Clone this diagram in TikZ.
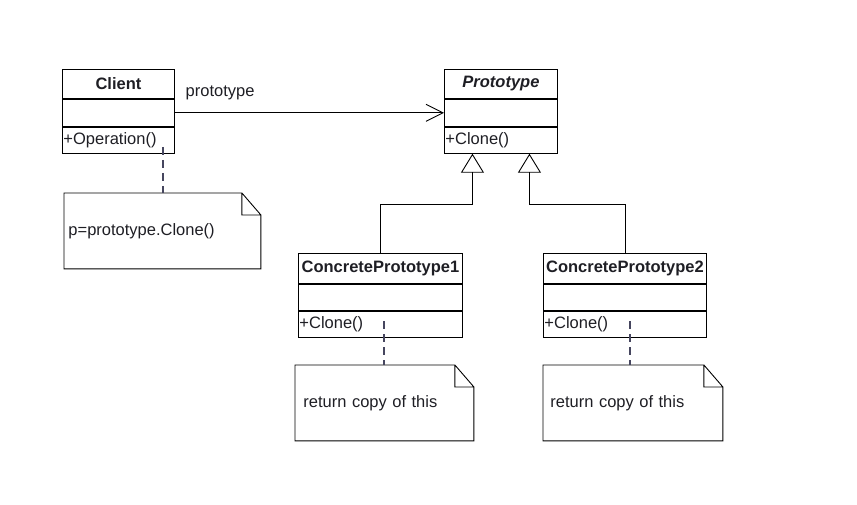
\documentclass[tikz,border=0pt]{standalone}
\usepackage{fontspec}
\setmainfont{Liberation Sans}
\usepackage{tikz}
\usetikzlibrary{arrows.meta,positioning}

\definecolor{linkgray}{RGB}{70,70,95}
\definecolor{textgray}{RGB}{30,30,36}

\begin{document}
\begin{tikzpicture}[x=1pt,y=-1pt,
          line width=0.9pt,
          font=\fontsize{16.5}{19}\selectfont,
          text=textgray,
          node distance=0pt,
          classname/.style={draw,minimum width=#1,minimum height=29pt,inner sep=0pt,font=\fontsize{16.5}{19}\selectfont\bfseries},
          classattr/.style={draw,minimum width=#1,minimum height=27pt,inner sep=0pt},
          classop/.style={draw,text width=#1,inner xsep=1pt,inner ysep=0pt,minimum height=26pt,align=left},
          umlnote/.style={text width=#1,align=left,minimum height=75pt,inner ysep=0pt},
          notelink/.style={draw=linkgray,line width=1.2pt,dash pattern=on 8pt off 5pt},
          generalize/.style={-{Triangle[open,length=19pt,width=23pt]}},
          assoc/.style={-{Straight Barb[length=17pt,width=17pt]}}]
  \useasboundingbox (0,0) rectangle (857,505);

  % classes
  \node[classname=112pt,anchor=north west] (client) at (62,69) {Client};
  \node[classattr=112pt,below=of client] (client-attr) {};
  \node[classop=110pt,below=of client-attr] (client-op) {+Operation()};

  \node[classname=113pt,anchor=north west,font=\fontsize{16.5}{19}\selectfont\bfseries\itshape] (proto) at (444,69) {Prototype};
  \node[classattr=113pt,below=of proto] (proto-attr) {};
  \node[classop=111pt,below=of proto-attr] (proto-op) {+Clone()};

  \node[classname=164pt,anchor=north west,minimum height=30pt] (cp1) at (298,253) {ConcretePrototype1};
  \node[classattr=164pt,below=of cp1,minimum height=26pt] (cp1-attr) {};
  \node[classop=162pt,below=of cp1-attr] (cp1-op) {+Clone()};

  \node[classname=163pt,anchor=north west,minimum height=30pt] (cp2) at (543,253) {ConcretePrototype2};
  \node[classattr=163pt,below=of cp2,minimum height=26pt] (cp2-attr) {};
  \node[classop=161pt,below=of cp2-attr] (cp2-op) {+Clone()};

  % notes
  \node[umlnote=188pt,inner xsep=4pt,anchor=north west] (note1) at (64,193) {p=prototype.Clone()};
  \node[umlnote=162pt,inner xsep=8pt,anchor=north west] (note2) at (295,365) {return copy of this};
  \node[umlnote=165pt,inner xsep=7pt,anchor=north west] (note3) at (543,365) {return copy of this};
  \foreach \n in {note1,note2,note3}
    \draw (\n.south west) -- (\n.north west) -- ([xshift=-19pt]\n.north east)
      -- ([yshift=-22pt]\n.north east) -- (\n.south east) -- cycle
      ([xshift=-19pt]\n.north east) |- ([yshift=-22pt]\n.north east);

  % association
  \draw[assoc] (client-attr.east) -- (proto-attr.west)
    node[pos=0,anchor=base west,xshift=7pt,yshift=16pt] (role) {prototype};

  % inheritance
  \draw[generalize] (cp1.north) -- ++(0,-49) -| ([xshift=-28.5pt]proto-op.south);
  \draw[generalize] (cp2.north) -- ++(0,-49) -| ([xshift=28.5pt]proto-op.south);

  % note links
  \coordinate (l1) at (163,147);
  \coordinate (l2) at (384,321);
  \coordinate (l3) at (630,321);
  \draw[notelink] (l1) -- (l1 |- note1.north);
  \draw[notelink] (l2) -- (l2 |- note2.north);
  \draw[notelink] (l3) -- (l3 |- note3.north);
\end{tikzpicture}
\end{document}
